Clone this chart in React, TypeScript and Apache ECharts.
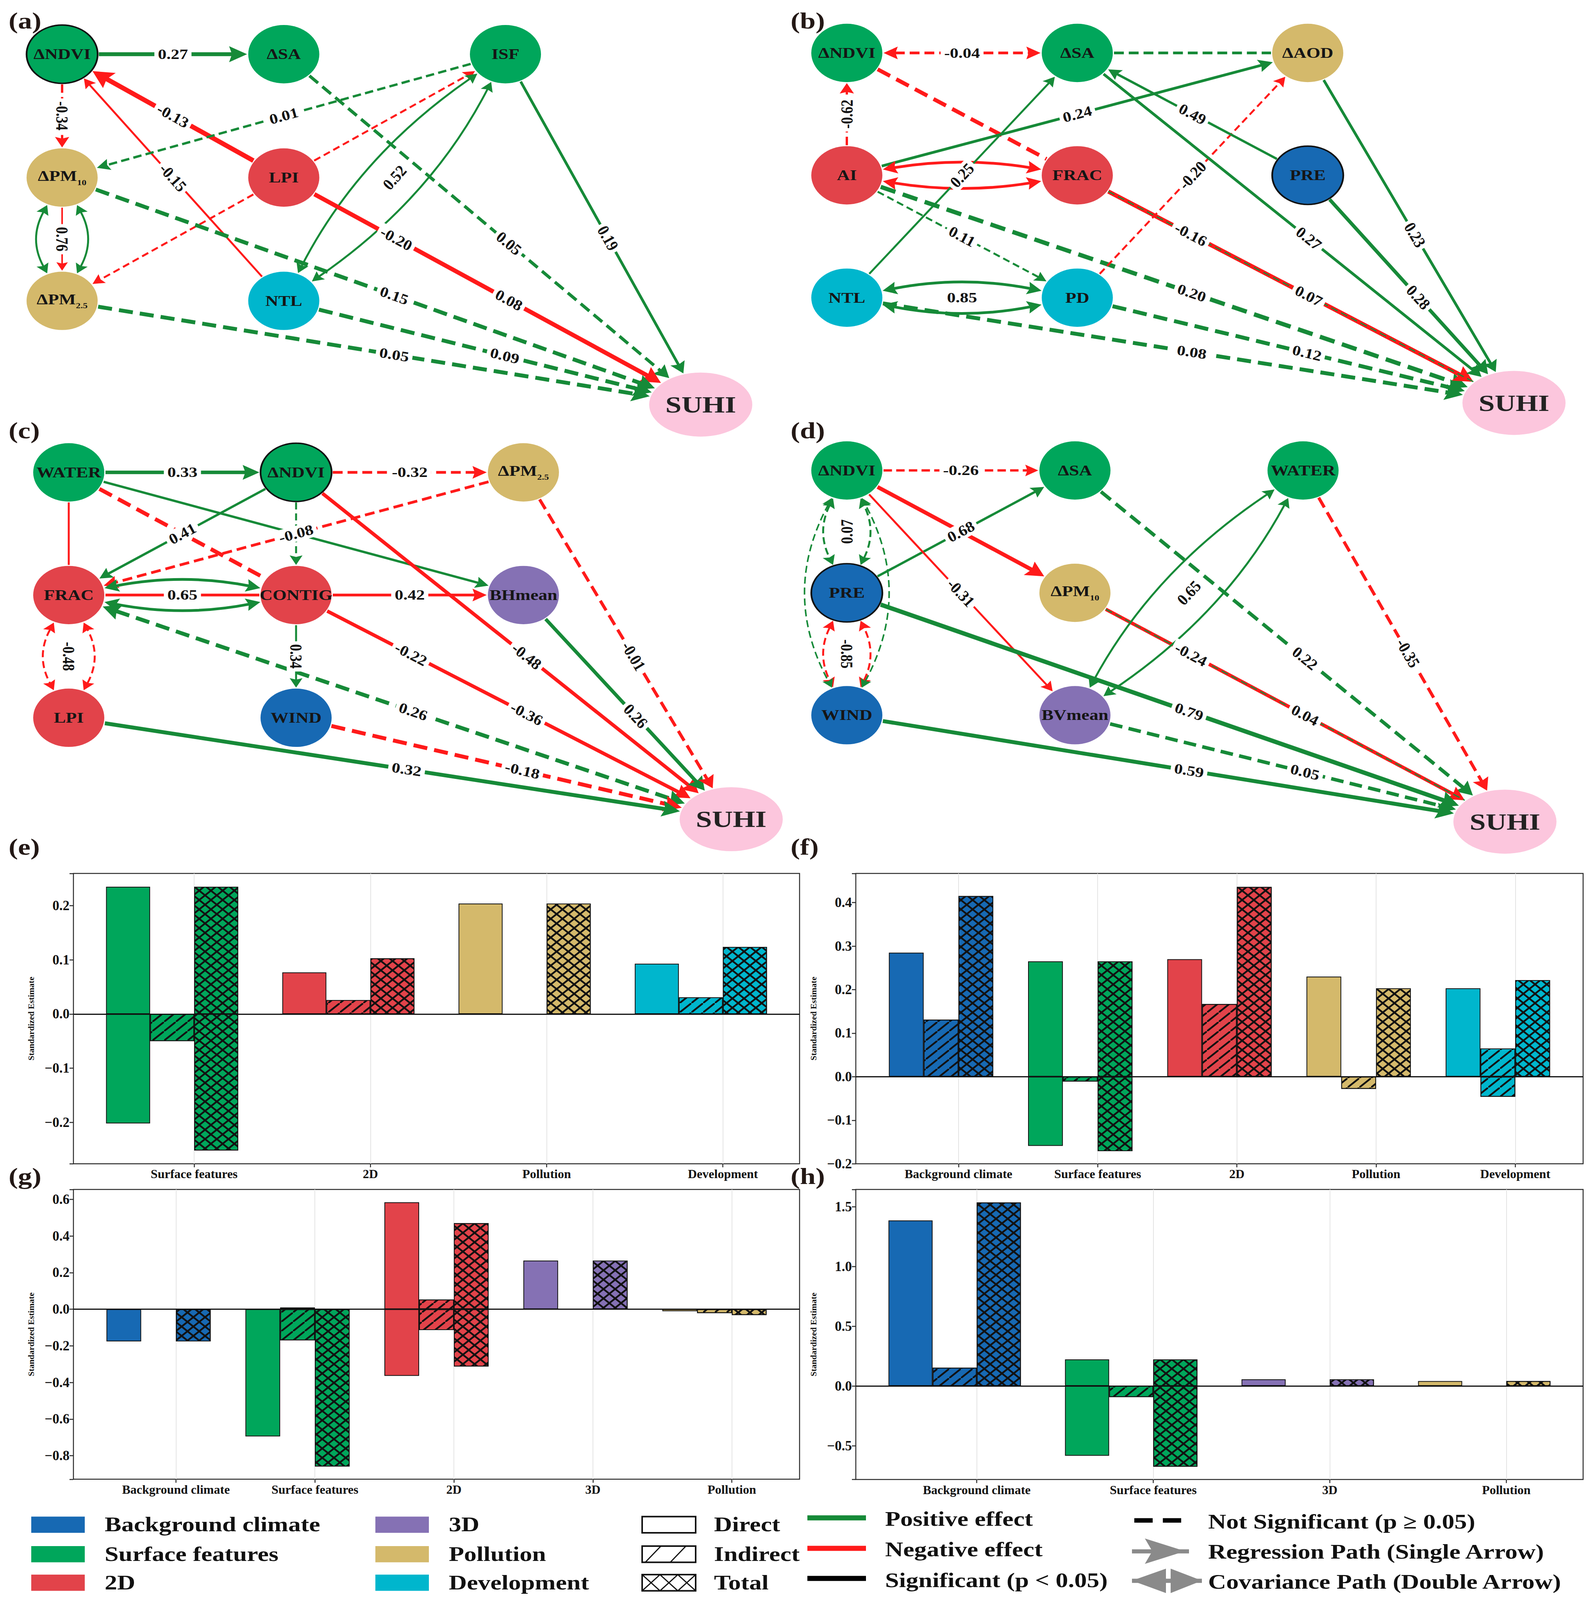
import React, { useEffect, useRef } from 'react';
import * as echarts from 'echarts';

const FONT = '"Liberation Serif", "Times New Roman", Times, serif';
const PAGE_W = 4086;
const PAGE_H = 5047;

const CAT_COLORS: Record<string, string> = {
  'Background climate': '#1769b3',
  'Surface features': '#00a65b',
  '2D': '#e2434a',
  '3D': '#8571b4',
  'Pollution': '#d4b96b',
  'Development': '#00b6cd',
};
const NODE_COLORS: Record<string, string> = {
  climate: '#1769b3', surface: '#00a65b', d2: '#e2434a', d3: '#8571b4',
  pollution: '#d4b96b', development: '#00b6cd', suhi: '#fcc6dd',
};
const POS_COLOR = '#168a38';
const NEG_COLOR = '#ff1a1a';

// ---------------- bar chart data ----------------
const eCategories = ['Surface features', '2D', 'Pollution', 'Development'];
const eDirectPos = [0.235, 0.077, 0.204, 0.093];
const eDirectNeg = [-0.202, null, null, null];
const eIndirectPos = [null, 0.026, null, 0.031];
const eIndirectNeg = [-0.050, null, null, null];
const eTotalPos = [0.235, 0.103, 0.204, 0.124];
const eTotalNeg = [-0.252, null, null, null];

const fCategories = ['Background climate', 'Surface features', '2D', 'Pollution', 'Development'];
const fDirectPos = [0.285, 0.265, 0.270, 0.230, 0.203];
const fDirectNeg = [null, -0.159, null, null, null];
const fIndirectPos = [0.131, null, 0.167, null, 0.065];
const fIndirectNeg = [null, -0.011, null, -0.028, -0.046];
const fTotalPos = [0.415, 0.265, 0.436, 0.203, 0.222];
const fTotalNeg = [null, -0.171, null, null, null];

const gCategories = ['Background climate', 'Surface features', '2D', '3D', 'Pollution'];
const gDirectPos = [null, null, 0.584, 0.266, null];
const gDirectNeg = [-0.176, -0.695, -0.364, null, -0.011];
const gIndirectPos = [null, 0.009, 0.053, null, null];
const gIndirectNeg = [null, -0.170, -0.114, null, -0.021];
const gTotalPos = [null, null, 0.470, 0.266, null];
const gTotalNeg = [-0.176, -0.859, -0.313, null, -0.032];

const hCategories = ['Background climate', 'Surface features', '3D', 'Pollution'];
const hDirectPos = [1.385, 0.222, 0.056, 0.041];
const hDirectNeg = [null, -0.584, null, null];
const hIndirectPos = [0.153, null, null, null];
const hIndirectNeg = [null, -0.093, null, null];
const hTotalPos = [1.535, 0.222, 0.056, 0.041];
const hTotalNeg = [null, -0.676, null, null];

// ---------------- path diagram data ----------------
// [id, label, col, row, colorKey, border]
const nodesA = [
  ['NDVI', 'ΔNDVI', 0, 0, 'surface', 1],
  ['SA', 'ΔSA', 1, 0, 'surface', 0],
  ['ISF', 'ISF', 2, 0, 'surface', 0],
  ['PM10', 'ΔPM_10', 0, 1, 'pollution', 0],
  ['LPI', 'LPI', 1, 1, 'd2', 0],
  ['PM25', 'ΔPM_2.5', 0, 2, 'pollution', 0],
  ['NTL', 'NTL', 1, 2, 'development', 0],
  ['SUHI', 'SUHI', 2.881, 2.841, 'suhi', 0],
];
// [from, to, color, dashed, width, label, labelT, curveness, arrows(0 none,1 end,2 both)]
const edgesA = [
  ['NDVI', 'SA', 'g', 0, 10, '0.27', 0.5, 0, 1],
  ['NDVI', 'PM10', 'r', 1, 6, '-0.34', 0.5, 0, 1],
  ['LPI', 'NDVI', 'r', 0, 12, '-0.13', 0.5, 0, 1],
  ['NTL', 'NDVI', 'r', 0, 5, '-0.15', 0.5, 0, 1],
  ['ISF', 'PM10', 'g', 1, 6, '0.01', 0.5, 0, 1],
  ['LPI', 'ISF', 'r', 1, 5, '', 0.5, 0, 1],
  ['LPI', 'PM25', 'r', 1, 5, '', 0.5, 0, 1],
  ['ISF', 'NTL', 'g', 0, 5, '', 0.5, 0.12, 2],
  ['NTL', 'ISF', 'g', 0, 5, '', 0.5, 0.12, 2],
  ['ISF', 'NTL', 'g', 0, 0, '0.52', 0.5, 0, 0],
  ['PM10', 'PM25', 'r', 0, 4, '', 0.5, 0, 1],
  ['PM10', 'PM25', 'g', 0, 5, '', 0.5, 0.22, 2],
  ['PM25', 'PM10', 'g', 0, 5, '', 0.5, 0.22, 2],
  ['PM10', 'PM25', 'g', 0, 0, '0.76', 0.5, 0, 0],
  ['SA', 'SUHI', 'g', 1, 8, '0.05', 0.54, 0, 1],
  ['ISF', 'SUHI', 'g', 0, 7, '0.19', 0.525, 0, 1],
  ['LPI', 'SUHI', 'r', 0, 11, '-0.20', 0.27, 0, 1],
  ['LPI', 'SUHI', 'g', 0, 0, '0.08', 0.54, 0, 0],
  ['PM10', 'SUHI', 'g', 1, 10, '0.15', 0.52, 0, 1],
  ['NTL', 'SUHI', 'g', 1, 10, '0.09', 0.53, 0, 1],
  ['PM25', 'SUHI', 'g', 1, 10, '0.05', 0.52, 0, 1],
];

const nodesB = [
  ['NDVI', 'ΔNDVI', 0, 0, 'surface', 0],
  ['SA', 'ΔSA', 1, 0, 'surface', 0],
  ['AOD', 'ΔAOD', 2, 0, 'pollution', 0],
  ['AI', 'AI', 0, 1, 'd2', 0],
  ['FRAC', 'FRAC', 1, 1, 'd2', 0],
  ['PRE', 'PRE', 2, 1, 'climate', 1],
  ['NTL', 'NTL', 0, 2, 'development', 0],
  ['PD', 'PD', 1, 2, 'development', 0],
  ['SUHI', 'SUHI', 2.895, 2.86, 'suhi', 0],
];
const edgesB = [
  ['NDVI', 'SA', 'r', 1, 7, '-0.04', 0.5, 0, 2],
  ['SA', 'AOD', 'g', 1, 7, '', 0.5, 0, 0],
  ['AI', 'NDVI', 'r', 1, 6, '-0.62', 0.5, 0, 1],
  ['NDVI', 'FRAC', 'r', 1, 10, '', 0.5, 0, 0],
  ['AI', 'AOD', 'g', 0, 7, '0.24', 0.5, 0, 1],
  ['AI', 'FRAC', 'r', 0, 7, '', 0.5, -0.1, 2],
  ['FRAC', 'AI', 'r', 0, 7, '', 0.5, -0.1, 2],
  ['NTL', 'SA', 'g', 0, 5, '0.25', 0.5, 0, 1],
  ['AI', 'PD', 'g', 1, 5, '0.11', 0.5, 0, 1],
  ['AI', 'SUHI', 'g', 1, 11, '0.20', 0.517, 0, 1],
  ['FRAC', 'SUHI', 'r', 0, 11, '-0.16', 0.26, 0, 1],
  ['FRAC', 'SUHI', 'g', 1, 3, '0.07', 0.53, 0, 0],
  ['PD', 'AOD', 'r', 1, 5, '-0.20', 0.5, 0, 1],
  ['PRE', 'SA', 'g', 0, 6, '0.49', 0.5, 0, 1],
  ['SA', 'SUHI', 'g', 0, 7, '0.27', 0.53, 0, 1],
  ['AOD', 'SUHI', 'g', 0, 7, '0.23', 0.52, 0, 1],
  ['PRE', 'SUHI', 'g', 0, 9, '0.28', 0.536, 0, 1],
  ['NTL', 'PD', 'g', 0, 7, '', 0.5, -0.12, 2],
  ['PD', 'NTL', 'g', 0, 7, '', 0.5, -0.12, 2],
  ['NTL', 'PD', 'g', 0, 0, '0.85', 0.5, 0, 0],
  ['PD', 'SUHI', 'g', 1, 10, '0.12', 0.526, 0, 1],
  ['NTL', 'SUHI', 'g', 1, 10, '0.08', 0.517, 0, 1],
];

const nodesC = [
  ['WATER', 'WATER', 0, 0, 'surface', 0],
  ['NDVI', 'ΔNDVI', 1, 0, 'surface', 1],
  ['PM25', 'ΔPM_2.5', 2, 0, 'pollution', 0],
  ['FRAC', 'FRAC', 0, 1, 'd2', 0],
  ['CONTIG', 'CONTIG', 1, 1, 'd2', 0],
  ['BH', 'BHmean', 2, 1, 'd3', 0],
  ['LPI', 'LPI', 0, 2, 'd2', 0],
  ['WIND', 'WIND', 1, 2, 'climate', 0],
  ['SUHI', 'SUHI', 2.914, 2.827, 'suhi', 0],
];
const edgesC = [
  ['WATER', 'NDVI', 'g', 0, 9, '0.33', 0.5, 0, 1],
  ['NDVI', 'PM25', 'r', 1, 7, '-0.32', 0.5, 0, 1],
  ['WATER', 'FRAC', 'r', 0, 5, '', 0.5, 0, 0],
  ['WATER', 'CONTIG', 'r', 1, 10, '', 0.5, 0, 0],
  ['NDVI', 'FRAC', 'g', 0, 6, '0.41', 0.5, 0, 1],
  ['WATER', 'BH', 'g', 0, 6, '', 0.5, 0, 1],
  ['PM25', 'FRAC', 'r', 1, 7, '-0.08', 0.5, 0, 1],
  ['NDVI', 'CONTIG', 'g', 1, 5, '', 0.5, 0, 1],
  ['FRAC', 'CONTIG', 'g', 0, 7, '', 0.5, -0.12, 2],
  ['CONTIG', 'FRAC', 'g', 0, 7, '', 0.5, -0.12, 2],
  ['FRAC', 'CONTIG', 'r', 0, 7, '0.65', 0.5, 0, 0],
  ['CONTIG', 'BH', 'r', 0, 7, '0.42', 0.5, 0, 1],
  ['FRAC', 'LPI', 'r', 1, 5, '', 0.5, 0.22, 2],
  ['LPI', 'FRAC', 'r', 1, 5, '', 0.5, 0.22, 2],
  ['FRAC', 'LPI', 'r', 0, 0, '-0.48', 0.5, 0, 0],
  ['CONTIG', 'WIND', 'g', 0, 5, '0.34', 0.5, 0, 1],
  ['NDVI', 'SUHI', 'r', 0, 9, '-0.48', 0.53, 0, 1],
  ['CONTIG', 'SUHI', 'r', 0, 9, '-0.22', 0.264, 0, 1],
  ['CONTIG', 'SUHI', 'r', 0, 0, '-0.36', 0.53, 0, 0],
  ['FRAC', 'SUHI', 'g', 1, 10, '0.26', 0.52, 0, 2],
  ['BH', 'SUHI', 'g', 0, 9, '0.26', 0.54, 0, 1],
  ['PM25', 'SUHI', 'r', 1, 8, '-0.01', 0.53, 0, 1],
  ['WIND', 'SUHI', 'r', 1, 10, '-0.18', 0.52, 0, 1],
  ['LPI', 'SUHI', 'g', 0, 10, '0.32', 0.51, 0, 1],
];

const nodesD = [
  ['NDVI', 'ΔNDVI', 0, 0, 'surface', 0],
  ['SA', 'ΔSA', 1, 0, 'surface', 0],
  ['WATER', 'WATER', 2, 0, 'surface', 0],
  ['PRE', 'PRE', 0, 1, 'climate', 1],
  ['PM10', 'ΔPM_10', 1, 1, 'pollution', 0],
  ['WIND', 'WIND', 0, 2, 'climate', 0],
  ['BV', 'BVmean', 1, 2, 'd3', 0],
  ['SUHI', 'SUHI', 2.885, 2.87, 'suhi', 0],
];
const edgesD = [
  ['NDVI', 'SA', 'r', 1, 6, '-0.26', 0.5, 0, 1],
  ['NDVI', 'PM10', 'r', 0, 10, '', 0.5, 0, 1],
  ['PRE', 'SA', 'g', 0, 6, '0.68', 0.5, 0, 1],
  ['NDVI', 'BV', 'r', 0, 5, '-0.31', 0.5, 0, 1],
  ['NDVI', 'PRE', 'g', 1, 5, '', 0.5, 0.2, 2],
  ['PRE', 'NDVI', 'g', 1, 5, '', 0.5, 0.2, 2],
  ['PRE', 'NDVI', 'g', 0, 0, '0.07', 0.5, 0, 0],
  ['PRE', 'WIND', 'r', 1, 5, '', 0.5, 0.2, 2],
  ['WIND', 'PRE', 'r', 1, 5, '', 0.5, 0.2, 2],
  ['PRE', 'WIND', 'r', 0, 0, '-0.85', 0.5, 0, 0],
  ['NDVI', 'WIND', 'g', 1, 4, '', 0.5, 0.22, 2],
  ['WIND', 'NDVI', 'g', 1, 4, '', 0.5, 0.22, 2],
  ['SA', 'SUHI', 'g', 1, 9, '0.22', 0.535, 0, 1],
  ['WATER', 'SUHI', 'r', 1, 8, '-0.35', 0.52, 0, 1],
  ['PM10', 'SUHI', 'r', 0, 9, '-0.24', 0.27, 0, 1],
  ['PM10', 'SUHI', 'g', 1, 3, '0.04', 0.535, 0, 0],
  ['WATER', 'BV', 'g', 0, 5, '', 0.5, 0.12, 2],
  ['BV', 'WATER', 'g', 0, 5, '', 0.5, 0.12, 2],
  ['WATER', 'BV', 'g', 0, 0, '0.65', 0.5, 0, 0],
  ['PRE', 'SUHI', 'g', 0, 11, '0.79', 0.52, 0, 1],
  ['BV', 'SUHI', 'g', 1, 9, '0.05', 0.535, 0, 1],
  ['WIND', 'SUHI', 'g', 0, 10, '0.59', 0.52, 0, 1],
];

const LEGEND_CATS = ['Background climate', 'Surface features', '2D', '3D', 'Pollution', 'Development'];
const LEGEND_TYPES = ['Direct', 'Indirect', 'Total'];
const LEGEND_EFFECTS = ['Positive effect', 'Negative effect', 'Significant (p < 0.05)'];
const LEGEND_PATHS = ['Not Significant (p \u2265 0.05)', 'Regression Path (Single Arrow)', 'Covariance Path (Double Arrow)'];

// ---------------- helpers ----------------
const ELLIPSE = 'path://M0,50 A50,50 0 1,1 100,50 A50,50 0 1,1 0,50 Z';

function makeDecals(ky: number) {
  const th = Math.max(8, Math.round(30 * ky));
  return {
    slash: {
      symbol: 'path://M0,100 L0,88 L88,0 L100,0 L100,12 L12,100 Z',
      symbolSize: 1, symbolKeepAspect: false, color: '#111',
      dashArrayX: [30, 0], dashArrayY: [th, 0], rotation: 0,
    },
    cross: {
      symbol: 'path://M0,0 L12,0 L100,88 L100,100 L88,100 L0,12 Z M100,0 L100,12 L12,100 L0,100 L0,88 L88,0 Z',
      symbolSize: 1, symbolKeepAspect: false, color: '#111',
      dashArrayX: [30, 0], dashArrayY: [th, 0], rotation: 0,
    },
  };
}

function nodeSize(id: string): number[] {
  return id === 'SUHI' ? [264, 202] : [182, 184];
}
function unit(x: number, y: number) {
  const l = Math.hypot(x, y) || 1;
  return [x / l, y / l];
}
function ellipseR(rx: number, ry: number, u: number[]) {
  return 1 / Math.sqrt((u[0] / rx) ** 2 + (u[1] / ry) ** 2);
}

const NODE_RICH = {
  m: { fontFamily: FONT, fontWeight: 'bold', fontSize: 46, fill: '#151515' },
  mp: { fontFamily: FONT, fontWeight: 'bold', fontSize: 46, fill: '#151515', padding: [0, 0, 10, 0] },
  s: { fontFamily: FONT, fontWeight: 'bold', fontSize: 24, fill: '#151515', verticalAlign: 'bottom' },
  big: { fontFamily: FONT, fontWeight: 'bold', fontSize: 74, fill: '#222' },
};

function nodeLabel(name: string) {
  if (name === 'SUHI') return '{big|SUHI}';
  const i = name.indexOf('_');
  if (i >= 0) return `{mp|${name.slice(0, i)}}{s|${name.slice(i + 1)}}`;
  return `{m|${name}}`;
}

// All geometry is worked out in the reference's (unsquashed) space and then
// mapped to the page by squashing y with ky.
function makeEdgeRender(edges: any[], part: string, ky: number) {
  const D = (p: number[]) => [p[0], p[1] * ky];
  return (params: any, api: any) => {
    const e = edges[params.dataIndex];
    const q1 = api.coord([api.value(0), api.value(1)]);
    const q2 = api.coord([api.value(2), api.value(3)]);
    const p1 = [q1[0], q1[1] / ky];
    const p2 = [q2[0], q2[1] / ky];
    const dx = p2[0] - p1[0], dy = p2[1] - p1[1];
    const len = Math.hypot(dx, dy) || 1;
    const nx = -dy / len, ny = dx / len;
    const c = e[7];
    const cp = [(p1[0] + p2[0]) / 2 + nx * c * len, (p1[1] + p2[1]) / 2 + ny * c * len];
    const color = e[2] === 'g' ? POS_COLOR : NEG_COLOR;
    const w = e[4];
    if (part === 'label') {
      if (!e[5]) return null;
      const t = e[6];
      const mt = 1 - t;
      const x = mt * mt * p1[0] + 2 * mt * t * cp[0] + t * t * p2[0];
      const y = mt * mt * p1[1] + 2 * mt * t * cp[1] + t * t * p2[1];
      const tx = 2 * mt * (cp[0] - p1[0]) + 2 * t * (p2[0] - cp[0]);
      const ty = 2 * mt * (cp[1] - p1[1]) + 2 * t * (p2[1] - cp[1]);
      const aRef = Math.atan2(ty, tx);
      let ang = Math.atan2(ty * ky, tx);
      if (Math.cos(ang) < -1e-6) ang += Math.PI;
      const cs = Math.cos(aRef), sn = Math.sin(aRef);
      const f = Math.sqrt(cs * cs + ky * ky * sn * sn);
      const g = Math.sqrt(sn * sn + ky * ky * cs * cs);
      const pos = D([x, y]);
      return {
        type: 'text', x: pos[0], y: pos[1], rotation: -ang, scaleX: f, scaleY: g,
        style: {
          text: e[5], fill: '#111', font: `bold 44px ${FONT}`,
          align: 'center', verticalAlign: 'middle',
          backgroundColor: '#ffffff', padding: [2, 9],
        },
      };
    }
    if (!w) return null;
    const s1 = nodeSize(e[0]), s2 = nodeSize(e[1]);
    const u1 = unit(cp[0] - p1[0], cp[1] - p1[1]);
    const u2 = unit(p2[0] - cp[0], p2[1] - cp[1]);
    const r1 = ellipseR(s1[0] / 2 + 3, s1[1] / 2 + 3, u1);
    const r2 = ellipseR(s2[0] / 2 + 3, s2[1] / 2 + 3, u2);
    const s = [p1[0] + u1[0] * r1, p1[1] + u1[1] * r1];
    const tt = [p2[0] - u2[0] * r2, p2[1] - u2[1] * r2];
    const L = 14 + 3.2 * Math.max(w, 4);
    const HW = 0.55 * L;
    const head = (tip: number[], u: number[]) => {
      const bx = tip[0] - u[0] * L, by = tip[1] - u[1] * L;
      const hx = -u[1], hy = u[0];
      const notch = [tip[0] - u[0] * L * 0.84, tip[1] - u[1] * L * 0.84];
      const pts = [tip, [bx + hx * HW, by + hy * HW], notch, [bx - hx * HW, by - hy * HW]].map(D);
      return { type: 'polygon', shape: { points: pts }, style: { fill: color, stroke: null } };
    };
    const children: any[] = [];
    let ls = s, le = tt;
    const arrows = e[8];
    if (arrows >= 1) {
      le = [tt[0] - u2[0] * L * 0.8, tt[1] - u2[1] * L * 0.8];
      children.push(head(tt, u2));
    }
    if (arrows === 2) {
      ls = [s[0] + u1[0] * L * 0.8, s[1] + u1[1] * L * 0.8];
      children.push(head(s, [-u1[0], -u1[1]]));
    }
    const style: any = { stroke: color, lineWidth: w, fill: null, lineCap: 'butt' };
    if (e[3]) style.lineDash = [Math.max(18, 3.6 * w), Math.max(10, 1.8 * w)];
    const a = D(ls), b = D(le), k = D(cp);
    if (c) {
      children.unshift({ type: 'bezierCurve', shape: { x1: a[0], y1: a[1], x2: b[0], y2: b[1], cpx1: k[0], cpy1: k[1] }, style });
    } else {
      children.unshift({ type: 'line', shape: { x1: a[0], y1: a[1], x2: b[0], y2: b[1] }, style });
    }
    return { type: 'group', children };
  };
}

const fmtTick = (step: number) => (v: number) => {
  const k = v / step;
  if (Math.abs(k - Math.round(k)) > 1e-6) return '';
  const s = (Math.round(k) * step).toFixed(1);
  return s.startsWith('-') ? '\u2212' + s.slice(1) : s;
};

function buildOption(ky: number) {
  const Y = (v: number) => v * ky;
  const grid: any[] = [];
  const xAxis: any[] = [];
  const yAxis: any[] = [];
  const series: any[] = [];
  const decals = makeDecals(ky);

  const pathPanels = [
    { nodes: nodesA, edges: edgesA, x0: 159, sx: 567.5, y0: 171, sy: 389 },
    { nodes: nodesB, edges: edgesB, x0: 2168, sx: 590, y0: 167, sy: 386 },
    { nodes: nodesC, edges: edgesC, x0: 176, sx: 582, y0: 1490, sy: 387 },
    { nodes: nodesD, edges: edgesD, x0: 2168, sx: 584, y0: 1484, sy: 386 },
  ];
  pathPanels.forEach((p, i) => {
    grid.push({ left: p.x0, top: Y(p.y0), width: p.sx * 3, height: Y(p.sy * 3), show: false });
    xAxis.push({ gridIndex: i, type: 'value', min: 0, max: 3, show: false });
    yAxis.push({ gridIndex: i, type: 'value', min: 0, max: 3, inverse: true, show: false });
    const map: Record<string, any> = {};
    p.nodes.forEach((n: any) => { map[n[0]] = n; });
    const edgeData = p.edges.map((e: any) => [map[e[0]][2], map[e[0]][3], map[e[1]][2], map[e[1]][3]]);
    series.push({
      type: 'custom', xAxisIndex: i, yAxisIndex: i, z: 2, silent: true,
      data: edgeData, renderItem: makeEdgeRender(p.edges, 'line', ky),
    });
    series.push({
      type: 'scatter', xAxisIndex: i, yAxisIndex: i, z: 3, silent: true,
      symbol: ELLIPSE,
      data: p.nodes.map((n: any) => {
        const sz = nodeSize(n[0]);
        return {
          value: [n[2], n[3]], name: n[1], symbolSize: [sz[0], sz[1] * ky],
          itemStyle: { color: NODE_COLORS[n[4]], borderColor: '#111', borderWidth: n[5] ? 4 : 0, opacity: 1 },
        };
      }),
      label: { show: false },
      emphasis: { disabled: true },
    });
    series.push({
      type: 'custom', xAxisIndex: i, yAxisIndex: i, z: 4, silent: true,
      data: edgeData, renderItem: makeEdgeRender(p.edges, 'label', ky),
    });
    series.push({
      type: 'custom', xAxisIndex: i, yAxisIndex: i, z: 5, silent: true,
      data: p.nodes.map((n: any) => [n[2], n[3]]),
      renderItem: (params: any, api: any) => {
        const n: any = p.nodes[params.dataIndex];
        const q = api.coord([api.value(0), api.value(1)]);
        return {
          type: 'text', x: q[0], y: q[1], scaleY: ky,
          style: { text: nodeLabel(n[1]), rich: NODE_RICH, align: 'center', verticalAlign: 'middle' },
        };
      },
    });
  });

  const barPanels = [
    { cats: eCategories, dp: eDirectPos, dn: eDirectNeg, ip: eIndirectPos, ineg: eIndirectNeg, tp: eTotalPos, tn: eTotalNeg,
      left: 188, top: 2755, width: 1859, height: 916, xMin: -0.685, xMax: 3.435, yMin: -0.2765, yMax: 0.2597, step: 0.1, split: 5 },
    { cats: fCategories, dp: fDirectPos, dn: fDirectNeg, ip: fIndirectPos, ineg: fIndirectNeg, tp: fTotalPos, tn: fTotalNeg,
      left: 2191, top: 2755, width: 1862, height: 916, xMin: -0.7375, xMax: 4.4875, yMin: -0.2, yMax: 0.467, step: 0.1, split: 5 },
    { cats: gCategories, dp: gDirectPos, dn: gDirectNeg, ip: gIndirectPos, ineg: gIndirectNeg, tp: gTotalPos, tn: gTotalNeg,
      left: 188, top: 3752, width: 1859, height: 914, xMin: -0.7375, xMax: 4.4875, yMin: -0.9285, yMax: 0.654, step: 0.2, split: 8 },
    { cats: hCategories, dp: hDirectPos, dn: hDirectNeg, ip: hIndirectPos, ineg: hIndirectNeg, tp: hTotalPos, tn: hTotalNeg,
      left: 2191, top: 3752, width: 1862, height: 915, xMin: -0.685, xMax: 3.435, yMin: -0.783, yMax: 1.644, step: 0.5, split: 5 },
  ];
  barPanels.forEach((b, j) => {
    const gi = 4 + j;
    const idx = b.cats.map((_, k) => k);
    grid.push({ left: b.left, top: Y(b.top), width: b.width, height: Y(b.height), show: true, borderColor: '#2a2a2a', borderWidth: 2.5, backgroundColor: 'transparent' });
    xAxis.push({
      gridIndex: gi, type: 'value', min: b.xMin, max: b.xMax, position: 'bottom',
      axisLine: { show: false, onZero: false },
      axisTick: { show: true, customValues: idx, length: 9, lineStyle: { color: '#2a2a2a', width: 2.5 } },
      axisLabel: {
        customValues: idx, formatter: (v: number) => b.cats[Math.round(v)] || '',
        fontFamily: FONT, fontWeight: 'bold', fontSize: 32, color: '#111', margin: 10,
      },
      splitLine: { show: true, lineStyle: { color: '#e4e4e4', width: 2 } },
    });
    yAxis.push({
      gridIndex: gi, type: 'value', min: b.yMin, max: b.yMax, splitNumber: b.split, position: 'left',
      axisLine: { show: false, onZero: false },
      axisTick: { show: true, length: 10, lineStyle: { color: '#2a2a2a', width: 2.5 } },
      axisLabel: { formatter: fmtTick(b.step), fontFamily: FONT, fontWeight: 'bold', fontSize: 35, color: '#111', margin: 10 },
      splitLine: { show: false },
      name: 'Standardized Estimate', nameLocation: 'middle', nameGap: 98, nameRotate: 90,
      nameTextStyle: { fontFamily: FONT, fontWeight: 'bold', fontSize: 22, color: '#111' },
    });
    const mk = (vals: any[], stack: string, decal: any) => ({
      type: 'bar', xAxisIndex: gi, yAxisIndex: gi, stack: stack + gi, barWidth: '25%', barGap: '0%', z: 2, silent: true,
      itemStyle: decal ? { borderColor: '#111', borderWidth: 2, decal } : { borderColor: '#111', borderWidth: 2 },
      data: b.cats.map((c, k) => (vals[k] == null ? null : { value: [k, vals[k]], itemStyle: { color: CAT_COLORS[c] } })).filter(Boolean),
    });
    series.push(mk(b.dp, 'd', null));
    series.push(mk(b.dn, 'd', null));
    series.push(mk(b.ip, 'i', decals.slash));
    series.push(mk(b.ineg, 'i', decals.slash));
    series.push(mk(b.tp, 't', decals.cross));
    series.push(mk(b.tn, 't', decals.cross));
    series.push({
      type: 'bar', xAxisIndex: gi, yAxisIndex: gi, stack: 'e' + gi, barWidth: '25%', barGap: '0%', silent: true,
      data: b.cats.map((_, k) => [k, null]),
      markLine: {
        silent: true, symbol: ['none', 'none'], z: 6, label: { show: false },
        lineStyle: { color: '#111', width: 3, type: 'solid' },
        data: [{ yAxis: 0 }],
      },
    });
  });

  // graphics: panel letters + legend
  const g: any[] = [];
  const letters = [
    ['(a)', 22, 30], ['(b)', 2024, 30], ['(c)', 22, 1322], ['(d)', 2024, 1322],
    ['(e)', 22, 2636], ['(f)', 2024, 2636], ['(g)', 22, 3675], ['(h)', 2024, 3675],
  ];
  letters.forEach((l: any) => {
    g.push({ type: 'text', x: l[1], y: Y(l[2]), scaleY: ky, style: { text: l[0], font: `bold 72px ${FONT}`, fill: '#231815', align: 'left', verticalAlign: 'top' } });
  });
  const rows = [4809, 4902, 4992];
  const legText = (text: string, x: number, y: number) => ({
    type: 'text', x, y: Y(y), scaleY: ky, style: { text, font: `bold 64px ${FONT}`, fill: '#111', align: 'left', verticalAlign: 'middle' },
  });
  const rect = (x: number, y: number, w: number, h: number, style: any) => ({ type: 'rect', shape: { x, y: Y(y), width: w, height: Y(h) }, style });
  const seg = (x1: number, y1: number, x2: number, y2: number) => ({ type: 'line', shape: { x1, y1: Y(y1), x2, y2: Y(y2) }, style: { stroke: '#111', lineWidth: 3 } });
  const poly = (pts: number[][], fill: string) => ({ type: 'polygon', shape: { points: pts.map((p) => [p[0], Y(p[1])]) }, style: { fill } });
  LEGEND_CATS.forEach((c, k) => {
    const col = k < 3 ? 0 : 1;
    const y = rows[k % 3];
    const sx = col === 0 ? 80 : 961;
    const tx = col === 0 ? 268 : 1149;
    g.push(rect(sx, y - 25, 137, 51, { fill: CAT_COLORS[c] }));
    g.push(legText(c, tx, y));
  });
  LEGEND_TYPES.forEach((t, k) => {
    const y = rows[k];
    const x = 1644, w = 137, h = 51, top = y - 25;
    g.push(rect(x, top, w, h, { fill: '#fff', stroke: '#111', lineWidth: 4 }));
    if (k === 1) {
      g.push(seg(x + 8, top + h, x + 48, top));
      g.push(seg(x + 72, top + h, x + 112, top));
    }
    if (k === 2) {
      for (let i = 0; i < 3; i++) {
        g.push(seg(x + (i * w) / 3, top, x + ((i + 1) * w) / 3, top + h));
        g.push(seg(x + ((i + 1) * w) / 3, top, x + (i * w) / 3, top + h));
      }
    }
    g.push(legText(t, 1828, y));
  });
  const effColors = [POS_COLOR, NEG_COLOR, '#000'];
  const effRows = [4788, 4884, 4979];
  const effTextRows = [4792, 4887, 4985];
  LEGEND_EFFECTS.forEach((t, k) => {
    g.push(rect(2067, effRows[k] - 8, 150, 16, { fill: effColors[k] }));
    g.push(legText(t, 2266, effTextRows[k]));
  });
  const gray = '#8a8a8a';
  g.push(rect(2904, 4789, 47, 14, { fill: '#000' }));
  g.push(rect(2977, 4789, 47, 14, { fill: '#000' }));
  g.push(legText(LEGEND_PATHS[0], 3093, 4800));
  g.push(rect(2898, 4887, 146, 13, { fill: gray }));
  g.push(poly([[2931, 4853], [3034, 4893], [2931, 4933], [2950, 4893]], gray));
  g.push(legText(LEGEND_PATHS[1], 3093, 4895));
  g.push(rect(2898, 4980, 179, 13, { fill: gray }));
  g.push(poly([[2898, 4986], [2985, 4948], [2985, 5025]], gray));
  g.push(poly([[3077, 4986], [2997, 4948], [2997, 5025]], gray));
  g.push(legText(LEGEND_PATHS[2], 3093, 4990));

  return {
    animation: false,
    backgroundColor: '#ffffff',
    textStyle: { fontFamily: FONT },
    grid, xAxis, yAxis, series,
    graphic: { elements: g },
  };
}

export default function App() {
  const ref = useRef<HTMLDivElement>(null);
  const vh = typeof window !== 'undefined' && window.innerHeight ? Math.min(PAGE_H, window.innerHeight) : PAGE_H;
  useEffect(() => {
    document.body.style.margin = '0';
    document.body.style.overflow = 'hidden';
    if (!ref.current) return;
    const ky = vh / PAGE_H;
    const chart = echarts.init(ref.current, null, { renderer: 'svg', width: PAGE_W, height: vh });
    chart.setOption(buildOption(ky) as any);
    return () => chart.dispose();
  }, [vh]);
  return <div ref={ref} style={{ width: PAGE_W, height: vh, background: '#fff' }} />;
}
